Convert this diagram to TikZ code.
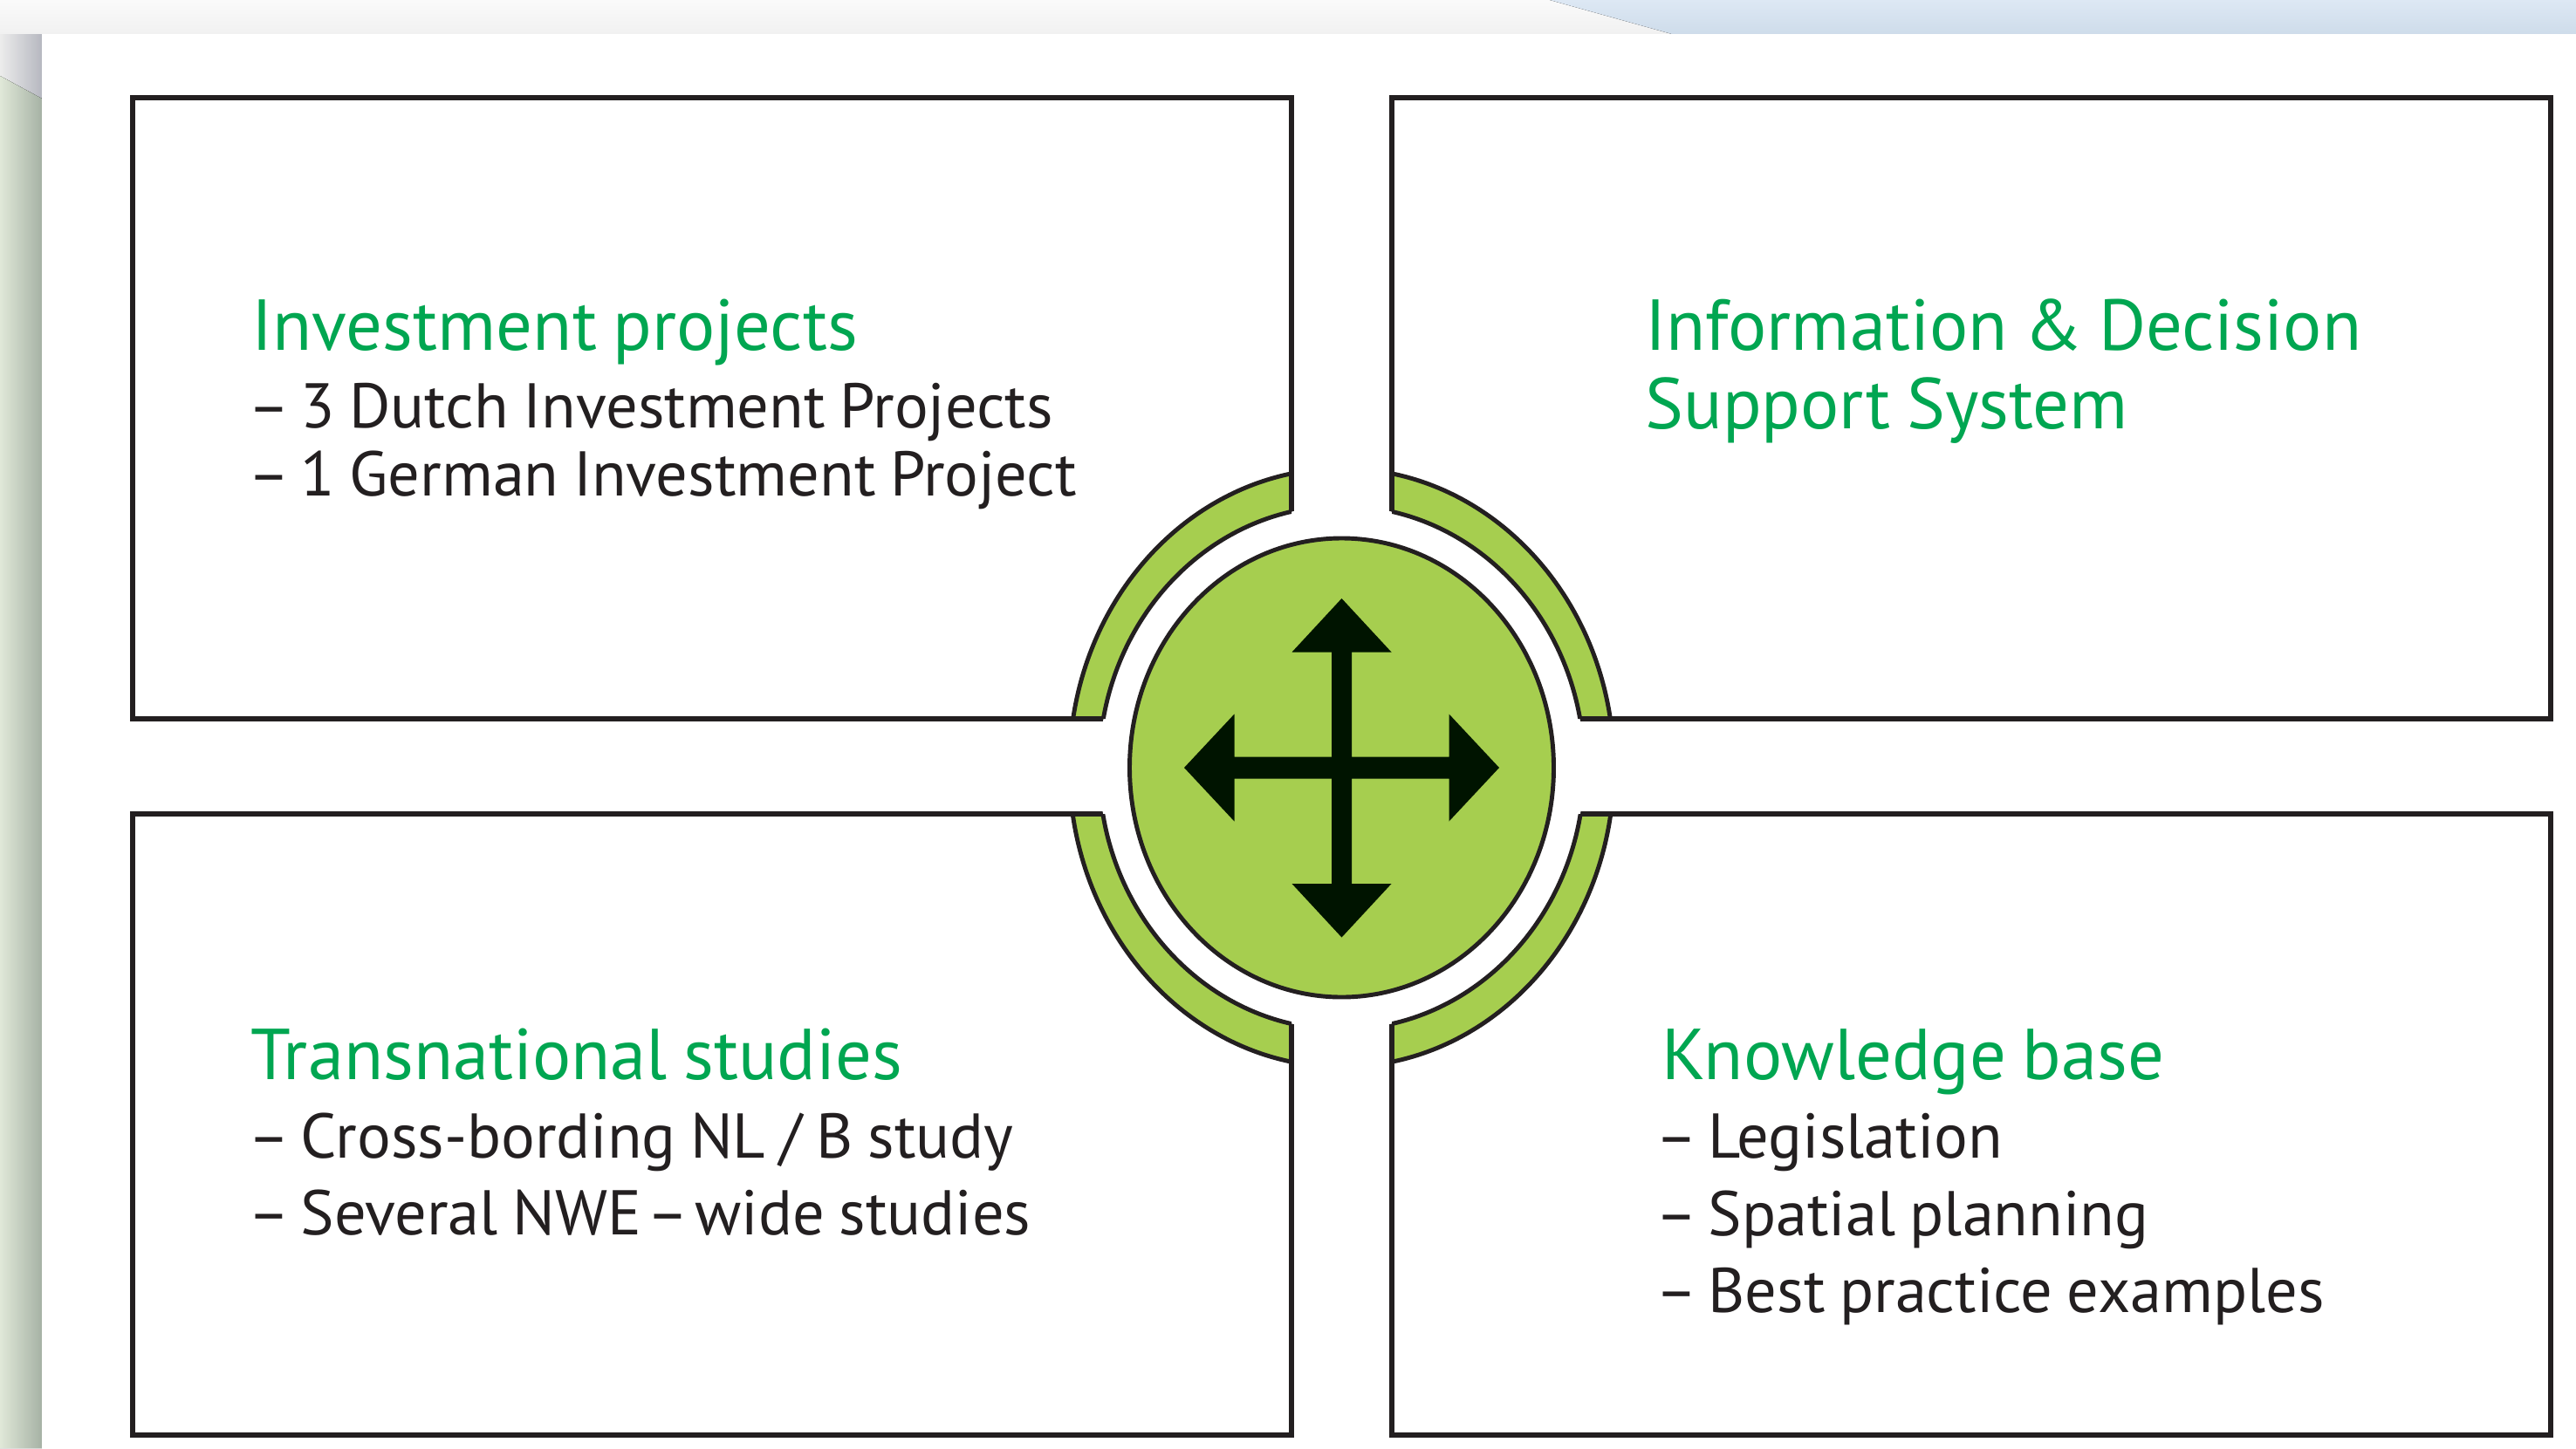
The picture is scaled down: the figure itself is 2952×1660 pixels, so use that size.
\documentclass[tikz,border=0pt]{standalone}
\usepackage{fontspec}
\setmainfont{PT Sans}[WordSpace=0.85]
\definecolor{lineblack}{HTML}{231F20}
\definecolor{titlegreen}{HTML}{00A651}
\definecolor{ringgreen}{HTML}{A6CE4F}
\definecolor{arrowdark}{HTML}{001400}
\definecolor{bluetop}{HTML}{DDE8F4}
\definecolor{bluebot}{HTML}{CEDCEA}
\definecolor{stripl}{HTML}{E0E8D8}
\definecolor{stripr}{HTML}{A6B2A5}
\definecolor{shadl}{HTML}{ECECEC}
\definecolor{shadr}{HTML}{B6B8C0}
\definecolor{bandtop}{HTML}{FAFAFA}
\definecolor{bandbot}{HTML}{F1F1F1}
\begin{document}
\begin{tikzpicture}[x=0.01cm,y=-0.01cm,
  boxline/.style={draw=lineblack, line width=1.5pt},
  ringline/.style={draw=lineblack, line width=1.4pt},
  ttl/.style={anchor=base west, inner sep=0pt, text=titlegreen, font=\fontsize{23.5pt}{23.5pt}\selectfont},
  bodytxt/.style={anchor=base west, inner sep=0pt, text=lineblack, font=\fontsize{20.6pt}{20.6pt}\selectfont}]
\useasboundingbox (0,0) rectangle (2952,1660);
% background
\fill[top color=bandtop, bottom color=bandbot] (0,0) rectangle (2952,39);
\fill[top color=bluetop, bottom color=bluebot] (1776,0) -- (2952,0) -- (2952,39) -- (1916,39) -- cycle;
\fill[left color=shadl, right color=shadr] (0,39) -- (48,39) -- (48,113) -- (0,87) -- cycle;
\fill[left color=stripl, right color=stripr] (0,87) -- (48,113) -- (48,1660) -- (0,1660) -- cycle;
\fill[white] (48,39) rectangle (2952,1660);
\coordinate (C) at (1537.5,880);
% boxes
\path[boxline, fill=white] (152,112) rectangle (1480,824);
\path[boxline, fill=white] (1595,112) rectangle (2923,824);
\path[boxline, fill=white] (152,933) rectangle (1480,1645);
\path[boxline, fill=white] (1595,933) rectangle (2923,1645);
\fill[white] (C) ellipse [x radius=278, y radius=300];
% ring pieces
\begin{scope}
\clip (152,112) rectangle (1480,824) (1595,112) rectangle (2923,824)
      (152,933) rectangle (1480,1645) (1595,933) rectangle (2923,1645);
\fill[ringgreen, even odd rule] (C) ellipse [x radius=312, y radius=343] (C) ellipse [x radius=278, y radius=300];
\draw[ringline] (C) ellipse [x radius=312, y radius=343];
\draw[ringline] (C) ellipse [x radius=278, y radius=300];
\end{scope}
\begin{scope}[even odd rule]
\clip (0,0) rectangle (2952,1660) (C) ellipse [x radius=278, y radius=300];
\draw[boxline] (152,112) rectangle (1480,824);
\draw[boxline] (1595,112) rectangle (2923,824);
\draw[boxline] (152,933) rectangle (1480,1645);
\draw[boxline] (1595,933) rectangle (2923,1645);
\end{scope}
% centre
\draw[ringline, fill=ringgreen] (C) ellipse [x radius=243, y radius=263];
\fill[arrowdark, shift={(C)}] (0,-194) -- (57,-132.5) -- (11.5,-132.5) -- (11.5,-12.5) -- (123,-12.5) -- (123,-61.5) -- (180.5,0) -- (123,61.5) -- (123,12.5) -- (11.5,12.5) -- (11.5,133) -- (57,133) -- (0,194.5) -- (-57,133) -- (-11.5,133) -- (-11.5,12.5) -- (-123,12.5) -- (-123,61.5) -- (-180.5,0) -- (-123,-61.5) -- (-123,-12.5) -- (-11.5,-12.5) -- (-11.5,-132.5) -- (-57,-132.5) -- cycle;
% texts
\node[ttl] (t1) at (288,401) {Investment projects};
\node[bodytxt] (t1a) at (284,490) {–\,3 Dutch Investment Projects};
\node[bodytxt] (t1b) at (284,568) {–\,1 German Investment Project};
\node[ttl] (t2) at (1885,401) {Information \& Decision};
\node[ttl] (t2b) at (1885,491) {Support System};
\node[ttl] (t3) at (287,1237) {Transnational studies};
\node[bodytxt] (t3a) at (284,1327) {–\,Cross-bording NL / B study};
\node[bodytxt] (t3b) at (284,1415) {–\,Several NWE\hspace{-0.13em} – \hspace{-0.13em}wide studies};
\node[ttl] (t4) at (1904,1237) {Knowledge base};
\node[bodytxt] (t4a) at (1897,1327) {–\,Legislation};
\node[bodytxt] (t4b) at (1897,1416) {–\,Spatial planning};
\node[bodytxt] (t4c) at (1897,1504) {–\,Best practice examples};
\end{tikzpicture}
\end{document}
